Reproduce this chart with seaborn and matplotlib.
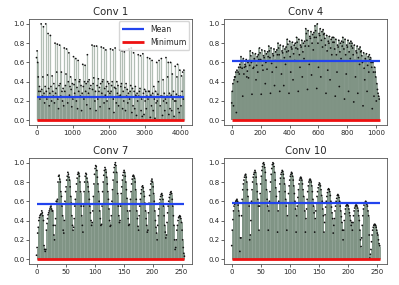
import matplotlib
matplotlib.use("Agg")
import matplotlib.pyplot as plt
import seaborn as sns
import numpy as np

# == DATA ==
TITLES = ["Conv 1", "Conv 4", "Conv 7", "Conv 10"]
N_CHANNELS = [4096, 1024, 256, 256]
MEANS = [0.24, 0.61, 0.57, 0.58]
MINIMUMS = [0.0, 0.0, 0.0, 0.0]

# Conv 1: one value every 16 channels (rows of 8 = 128 channels)
CONV1 = [
    0.65, 0.72, 0.60, 0.45, 0.30, 0.35, 0.22, 0.30,
    1.00, 0.32, 0.25, 0.45, 0.97, 0.28, 0.18, 0.35,
    1.00, 0.30, 0.22, 0.47, 0.90, 0.33, 0.15, 0.28,
    0.88, 0.35, 0.20, 0.46, 0.30, 0.25, 0.38, 0.18,
    0.80, 0.28, 0.33, 0.50, 0.79, 0.22, 0.12, 0.36,
    0.78, 0.38, 0.25, 0.50, 0.30, 0.20, 0.33, 0.15,
    0.75, 0.30, 0.36, 0.48, 0.74, 0.24, 0.18, 0.40,
    0.70, 0.26, 0.35, 0.45, 0.32, 0.14, 0.38, 0.22,
    0.66, 0.37, 0.28, 0.42, 0.64, 0.20, 0.34, 0.12,
    0.62, 0.30, 0.40, 0.42, 0.25, 0.36, 0.10, 0.28,
    0.58, 0.35, 0.22, 0.40, 0.57, 0.30, 0.38, 0.16,
    0.68, 0.40, 0.28, 0.42, 0.33, 0.12, 0.36, 0.24,
    0.78, 0.32, 0.38, 0.44, 0.77, 0.20, 0.30, 0.10,
    0.77, 0.36, 0.22, 0.43, 0.30, 0.34, 0.14, 0.38,
    0.76, 0.28, 0.40, 0.42, 0.75, 0.18, 0.33, 0.26,
    0.73, 0.35, 0.20, 0.40, 0.30, 0.38, 0.12, 0.28,
    0.74, 0.30, 0.36, 0.40, 0.73, 0.22, 0.08, 0.34,
    0.75, 0.33, 0.18, 0.40, 0.28, 0.36, 0.15, 0.25,
    0.73, 0.26, 0.35, 0.38, 0.72, 0.12, 0.30, 0.20,
    0.71, 0.34, 0.10, 0.38, 0.25, 0.32, 0.18, 0.28,
    0.74, 0.22, 0.30, 0.36, 0.75, 0.08, 0.33, 0.15,
    0.70, 0.30, 0.12, 0.35, 0.26, 0.05, 0.28, 0.20,
    0.68, 0.25, 0.30, 0.33, 0.67, 0.10, 0.22, 0.04,
    0.69, 0.28, 0.06, 0.32, 0.20, 0.30, 0.12, 0.25,
    0.65, 0.22, 0.30, 0.30, 0.64, 0.03, 0.26, 0.15,
    0.62, 0.28, 0.10, 0.35, 0.22, 0.02, 0.30, 0.18,
    0.60, 0.20, 0.27, 0.40, 0.62, 0.00, 0.15, 0.25,
    0.64, 0.25, 0.05, 0.42, 0.20, 0.28, 0.10, 0.22,
    0.65, 0.18, 0.25, 0.45, 0.60, 0.06, 0.28, 0.12,
    0.60, 0.26, 0.10, 0.48, 0.22, 0.30, 0.04, 0.20,
    0.56, 0.20, 0.27, 0.45, 0.58, 0.12, 0.25, 0.08,
    0.52, 0.25, 0.15, 0.46, 0.30, 0.50, 0.22, 0.52,
]

# Conv 4: one value every 4 channels (rows of 16 = 64 channels)
CONV4 = [
    0.18, 0.30, 0.38, 0.15, 0.42, 0.45, 0.45, 0.50, 0.08, 0.52, 0.40, 0.50, 0.55, 0.48, 0.58, 0.55,
    0.66, 0.61, 0.54, 0.25, 0.64, 0.48, 0.55, 0.58, 0.56, 0.63, 0.45, 0.51, 0.60, 0.44, 0.62, 0.57,
    0.72, 0.67, 0.60, 0.27, 0.70, 0.54, 0.55, 0.64, 0.62, 0.69, 0.42, 0.57, 0.66, 0.50, 0.68, 0.63,
    0.75, 0.70, 0.63, 0.27, 0.73, 0.57, 0.52, 0.67, 0.65, 0.72, 0.38, 0.60, 0.69, 0.53, 0.71, 0.66,
    0.77, 0.72, 0.65, 0.28, 0.75, 0.59, 0.50, 0.69, 0.67, 0.74, 0.36, 0.62, 0.71, 0.55, 0.73, 0.68,
    0.80, 0.75, 0.68, 0.30, 0.78, 0.62, 0.48, 0.72, 0.70, 0.77, 0.36, 0.65, 0.74, 0.58, 0.76, 0.71,
    0.84, 0.79, 0.72, 0.28, 0.82, 0.66, 0.50, 0.76, 0.74, 0.81, 0.42, 0.69, 0.78, 0.62, 0.80, 0.75,
    0.86, 0.81, 0.74, 0.30, 0.84, 0.68, 0.55, 0.78, 0.76, 0.83, 0.45, 0.71, 0.80, 0.64, 0.82, 0.77,
    0.95, 0.90, 0.83, 0.32, 0.93, 0.77, 0.58, 0.87, 0.85, 0.92, 0.47, 0.80, 0.89, 0.73, 0.91, 0.86,
    0.98, 0.93, 0.86, 0.33, 1.00, 0.80, 0.55, 0.90, 0.88, 0.95, 0.45, 0.83, 0.92, 0.76, 0.94, 0.89,
    0.90, 0.85, 0.78, 0.28, 0.88, 0.72, 0.52, 0.82, 0.80, 0.87, 0.42, 0.75, 0.84, 0.68, 0.86, 0.81,
    0.86, 0.81, 0.74, 0.25, 0.84, 0.68, 0.50, 0.78, 0.76, 0.83, 0.35, 0.71, 0.80, 0.64, 0.82, 0.77,
    0.86, 0.81, 0.74, 0.22, 0.84, 0.68, 0.48, 0.78, 0.76, 0.83, 0.30, 0.71, 0.80, 0.64, 0.82, 0.77,
    0.80, 0.75, 0.68, 0.19, 0.78, 0.62, 0.45, 0.72, 0.70, 0.77, 0.28, 0.65, 0.74, 0.58, 0.76, 0.71,
    0.72, 0.67, 0.60, 0.15, 0.70, 0.54, 0.42, 0.64, 0.62, 0.69, 0.30, 0.57, 0.66, 0.50, 0.68, 0.63,
    0.65, 0.60, 0.55, 0.12, 0.60, 0.50, 0.25, 0.55, 0.50, 0.45, 0.20, 0.38, 0.32, 0.28, 0.25, 0.22,
]

# Conv 7: every channel (rows of 16)
CONV7 = [
    0.04, 0.12, 0.27, 0.33, 0.40, 0.43, 0.45, 0.46, 0.47, 0.50, 0.48, 0.45, 0.40, 0.14, 0.10, 0.08,
    0.10, 0.30, 0.37, 0.42, 0.46, 0.48, 0.50, 0.52, 0.54, 0.55, 0.52, 0.50, 0.50, 0.35, 0.25, 0.20,
    0.35, 0.42, 0.60, 0.60, 0.62, 0.80, 0.86, 0.87, 0.83, 0.80, 0.70, 0.65, 0.55, 0.45, 0.30, 0.27,
    0.40, 0.60, 0.70, 0.75, 0.82, 0.86, 0.90, 0.88, 0.85, 0.82, 0.75, 0.65, 0.58, 0.45, 0.35, 0.30,
    0.33, 0.42, 0.55, 0.62, 0.70, 0.78, 0.84, 0.88, 0.90, 0.89, 0.86, 0.80, 0.70, 0.55, 0.45, 0.35,
    0.28, 0.55, 0.70, 0.80, 0.86, 0.89, 0.88, 0.84, 0.80, 0.75, 0.70, 0.62, 0.55, 0.48, 0.40, 0.35,
    0.38, 0.50, 0.65, 0.78, 0.88, 0.94, 0.97, 0.96, 0.92, 0.85, 0.78, 0.70, 0.60, 0.50, 0.42, 0.35,
    0.36, 0.55, 0.70, 0.80, 0.87, 0.92, 0.95, 0.93, 0.90, 0.85, 0.78, 0.70, 0.62, 0.52, 0.40, 0.34,
    0.35, 0.45, 0.60, 0.72, 0.82, 0.90, 0.95, 0.98, 1.00, 0.97, 0.90, 0.80, 0.68, 0.55, 0.45, 0.38,
    0.40, 0.55, 0.68, 0.75, 0.82, 0.87, 0.90, 0.92, 0.90, 0.86, 0.80, 0.72, 0.63, 0.50, 0.42, 0.35,
    0.36, 0.50, 0.62, 0.70, 0.78, 0.83, 0.86, 0.87, 0.86, 0.84, 0.80, 0.72, 0.62, 0.50, 0.42, 0.34,
    0.30, 0.45, 0.55, 0.62, 0.68, 0.72, 0.75, 0.76, 0.74, 0.70, 0.65, 0.58, 0.50, 0.42, 0.35, 0.28,
    0.30, 0.48, 0.58, 0.66, 0.72, 0.78, 0.81, 0.83, 0.80, 0.75, 0.68, 0.60, 0.50, 0.40, 0.33, 0.27,
    0.20, 0.35, 0.45, 0.52, 0.58, 0.62, 0.65, 0.67, 0.68, 0.66, 0.62, 0.55, 0.45, 0.35, 0.28, 0.22,
    0.25, 0.38, 0.48, 0.55, 0.60, 0.64, 0.67, 0.69, 0.70, 0.68, 0.62, 0.55, 0.45, 0.35, 0.20, 0.10,
    0.12, 0.20, 0.30, 0.35, 0.40, 0.43, 0.44, 0.45, 0.44, 0.42, 0.38, 0.30, 0.20, 0.12, 0.06, 0.03,
]

# Conv 10: every channel (rows of 16)
CONV10 = [
    0.14, 0.30, 0.41, 0.50, 0.55, 0.57, 0.58, 0.60, 0.61, 0.62, 0.60, 0.56, 0.50, 0.45, 0.08, 0.22,
    0.22, 0.45, 0.62, 0.72, 0.78, 0.82, 0.85, 0.87, 0.88, 0.85, 0.80, 0.72, 0.65, 0.58, 0.55, 0.20,
    0.25, 0.40, 0.60, 0.72, 0.80, 0.85, 0.88, 0.90, 0.92, 0.90, 0.85, 0.78, 0.70, 0.62, 0.55, 0.30,
    0.55, 0.68, 0.78, 0.86, 0.92, 0.96, 0.99, 1.00, 0.98, 0.95, 0.90, 0.82, 0.72, 0.62, 0.55, 0.30,
    0.50, 0.60, 0.70, 0.80, 0.88, 0.94, 0.98, 1.00, 0.99, 0.96, 0.90, 0.82, 0.74, 0.65, 0.58, 0.28,
    0.50, 0.60, 0.70, 0.78, 0.84, 0.88, 0.90, 0.92, 0.91, 0.88, 0.84, 0.78, 0.70, 0.62, 0.55, 0.30,
    0.45, 0.58, 0.68, 0.76, 0.82, 0.86, 0.88, 0.90, 0.89, 0.86, 0.82, 0.76, 0.68, 0.60, 0.52, 0.28,
    0.45, 0.55, 0.64, 0.72, 0.78, 0.82, 0.84, 0.85, 0.84, 0.82, 0.78, 0.72, 0.65, 0.58, 0.50, 0.28,
    0.42, 0.52, 0.62, 0.70, 0.76, 0.80, 0.82, 0.83, 0.82, 0.80, 0.76, 0.70, 0.62, 0.55, 0.48, 0.28,
    0.42, 0.50, 0.58, 0.65, 0.70, 0.74, 0.77, 0.79, 0.78, 0.76, 0.72, 0.66, 0.60, 0.52, 0.45, 0.28,
    0.38, 0.46, 0.54, 0.60, 0.65, 0.69, 0.72, 0.73, 0.72, 0.70, 0.66, 0.60, 0.54, 0.48, 0.42, 0.27,
    0.35, 0.42, 0.50, 0.55, 0.60, 0.63, 0.66, 0.67, 0.66, 0.64, 0.60, 0.55, 0.50, 0.44, 0.38, 0.30,
    0.20, 0.30, 0.40, 0.47, 0.52, 0.55, 0.56, 0.57, 0.56, 0.55, 0.52, 0.48, 0.45, 0.40, 0.35, 0.38,
    0.30, 0.38, 0.45, 0.50, 0.53, 0.55, 0.56, 0.56, 0.55, 0.53, 0.50, 0.45, 0.40, 0.30, 0.20, 0.13,
    0.22, 0.35, 0.45, 0.52, 0.56, 0.58, 0.59, 0.60, 0.59, 0.57, 0.55, 0.50, 0.45, 0.25, 0.01, 0.05,
    0.10, 0.18, 0.25, 0.30, 0.33, 0.35, 0.36, 0.36, 0.35, 0.33, 0.30, 0.27, 0.25, 0.20, 0.16, 0.14,
]

SERIES = [CONV1, CONV4, CONV7, CONV10]
XTICKS = [
    [0, 1000, 2000, 3000, 4000],
    [0, 200, 400, 600, 800, 1000],
    [0, 50, 100, 150, 200, 250],
    [0, 50, 100, 150, 200, 250],
]

# stem styling per panel (dense panels use thicker, translucent stems)
STEM_COLOR = "#7f9384"
STEM_WIDTH = [0.9, 1.3, 0.7, 0.7]
STEM_ALPHA = [0.6, 0.85, 0.9, 0.9]

sns.set_style("ticks")
plt.rcParams["font.family"] = ["DejaVu Sans"]

fig, axes = plt.subplots(2, 2, figsize=(3.99, 2.85), dpi=100)
fig.subplots_adjust(left=0.073, right=0.97, top=0.933, bottom=0.074,
                    wspace=0.2, hspace=0.31)

for i, ax in enumerate(axes.flat):
    n = N_CHANNELS[i]
    y = np.array(SERIES[i])
    step = n // len(y)
    x = np.arange(len(y)) * step

    # stems + markers
    ax.vlines(x, 0, y, color=STEM_COLOR, linewidth=STEM_WIDTH[i],
              alpha=STEM_ALPHA[i], zorder=1)
    sns.scatterplot(x=x, y=y, ax=ax, s=1.6, color="#111111",
                    edgecolor="none", zorder=2)

    # mean / minimum lines across the channel range
    ax.hlines(MEANS[i], 0, n - 1, color="#2244ee", linewidth=1.6,
              label="Mean", zorder=3)
    ax.hlines(MINIMUMS[i], 0, n - 1, color="#ee1111", linewidth=2.0,
              label="Minimum", zorder=3)

    ax.set_title(TITLES[i], fontsize=7.3, pad=3)
    ax.set_xticks(XTICKS[i])
    ax.set_yticks([0.0, 0.2, 0.4, 0.6, 0.8, 1.0])
    ax.tick_params(labelsize=5, length=2, width=0.5, pad=1.5)
    for sp in ax.spines.values():
        sp.set_linewidth(0.6)
        sp.set_color("#555555")

axes[0, 0].legend(loc="upper right", fontsize=5.6, handlelength=2.8,
                  borderaxespad=0.3, labelspacing=0.6, frameon=True)

fig.savefig("out.png", dpi=100)
